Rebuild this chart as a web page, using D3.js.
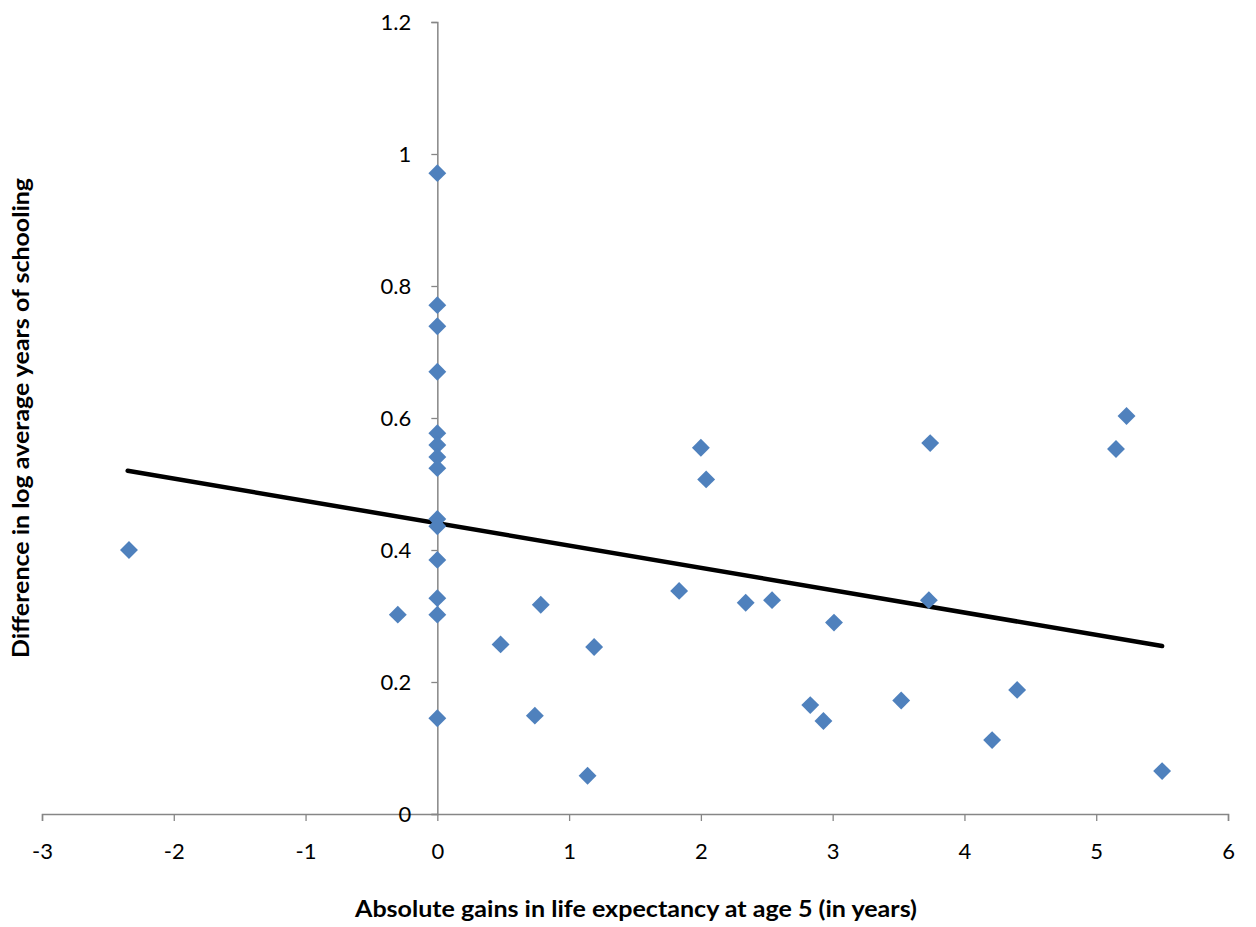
<!DOCTYPE html>
<html><head><meta charset="utf-8">
<script src="https://cdn.jsdelivr.net/npm/d3@7"></script>
<style>body{margin:0;background:#fff}svg{display:block}</style>
</head><body><svg id="c" width="1256" height="927"></svg>
<script>
const xTicks = [-3,-2,-1,0,1,2,3,4,5,6];
const xTickLabels = ["-3","-2","-1","0","1","2","3","4","5","6"];
const yTicks = [0,0.2,0.4,0.6,0.8,1,1.2];
const yTickLabels = ["0","0.2","0.4","0.6","0.8","1","1.2"];
const gainX = [0,0,0,0,0,0,0,0,0,0,0,0,0,0,
  -2.34,-0.30,0.48,0.74,0.785,1.14,1.19,1.835,2.0,2.04,2.34,2.54,2.83,2.93,3.01,3.52,3.73,3.74,4.21,4.40,5.15,5.23,5.50];
const schoolY = [0.971,0.771,0.739,0.670,0.577,0.559,0.541,0.524,0.447,0.436,0.385,0.327,0.302,0.145,
  0.400,0.302,0.257,0.149,0.317,0.058,0.253,0.338,0.555,0.507,0.320,0.324,0.165,0.141,0.290,0.172,0.324,0.562,0.112,0.188,0.553,0.603,0.065];
const trendX = [-2.35,5.5];
const trendY = [0.520,0.2545];
const xTitle = "Absolute gains in life expectancy at age 5 (in years)";
const yTitle = "Difference in log average years of schooling";

const svg = d3.select("#c");
const x = d3.scaleLinear().domain([-3,6]).range([42,1228]);
const y = d3.scaleLinear().domain([0,1.2]).range([814,22]);
const font = "Lato, 'Open Sans', sans-serif";
const axisColor = "#868686";

const gx = svg.append("g").attr("transform",`translate(0,${y(0)})`)
  .call(d3.axisBottom(x).tickValues(xTicks).tickFormat((d,i)=>xTickLabels[i]).tickSizeOuter(0).tickSize(7).tickPadding(22));
const gy = svg.append("g").attr("transform",`translate(${x(0)},0)`)
  .call(d3.axisLeft(y).tickValues(yTicks).tickFormat((d,i)=>yTickLabels[i]).tickSizeOuter(0).tickSize(6).tickPadding(20));
[gx,gy].forEach(g=>{
  g.select(".domain").attr("stroke",axisColor).attr("stroke-width",1.5);
  g.selectAll(".tick line").attr("stroke",axisColor).attr("stroke-width",1.3);
  g.selectAll(".tick text").attr("fill","#000").style("font-family",font).style("font-size","22px");
});
gy.selectAll(".tick text").attr("dy","0.35em");

svg.append("line")
  .attr("x1",x(trendX[0])).attr("y1",y(trendY[0]))
  .attr("x2",x(trendX[1])).attr("y2",y(trendY[1]))
  .attr("stroke","#000").attr("stroke-width",4.5).attr("stroke-linecap","round");

const pts = gainX.map((v,i)=>({x:v,y:schoolY[i]}));
svg.append("g").selectAll("path").data(pts).join("path")
  .attr("d",d3.symbol(d3.symbolSquare,160)())
  .attr("transform",d=>`translate(${x(d.x)},${y(d.y)}) rotate(45)`)
  .attr("fill","#4F81BD");

svg.append("text").attr("x",636).attr("y",917).attr("text-anchor","middle")
  .attr("textLength",562).attr("lengthAdjust","spacingAndGlyphs")
  .style("font-family",font).style("font-size","23px").style("font-weight","bold").text(xTitle);
svg.append("text").attr("transform",`translate(29,418) rotate(-90)`).attr("text-anchor","middle")
  .attr("textLength",480).attr("lengthAdjust","spacingAndGlyphs")
  .style("font-family",font).style("font-size","23px").style("font-weight","bold").text(yTitle);
</script></body></html>
